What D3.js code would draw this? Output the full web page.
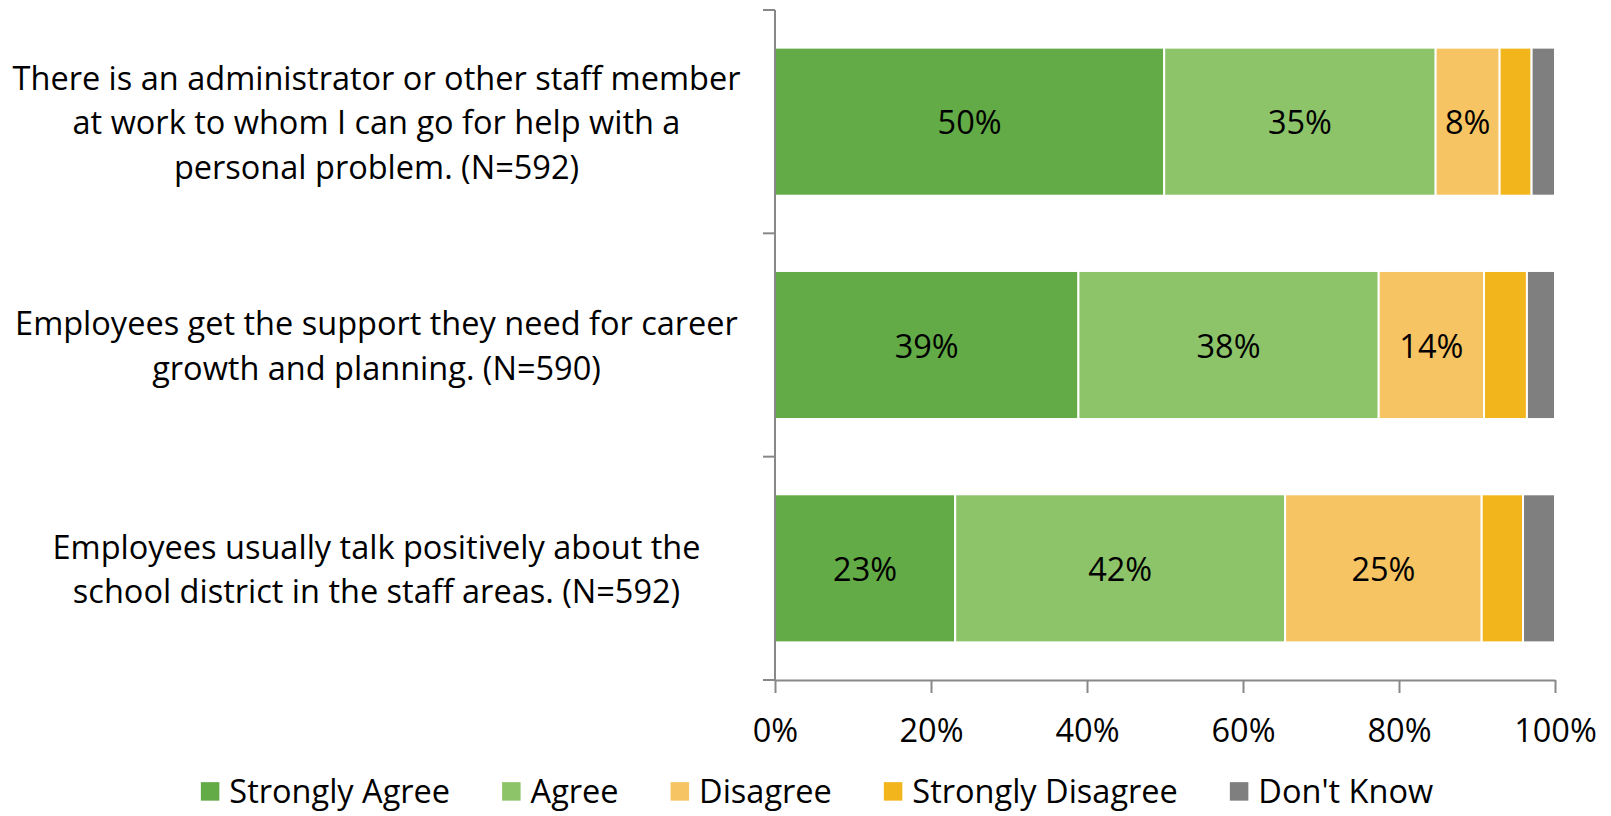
<!DOCTYPE html>
<html>
<head>
<meta charset="utf-8">
<script src="https://cdn.jsdelivr.net/npm/d3@7/dist/d3.min.js"></script>
<style>
  html, body { margin: 0; padding: 0; background: #fff; }
  svg { display: block; }
  text { font-family: "Open Sans", "Noto Sans", sans-serif; fill: #000; }
</style>
</head>
<body>
<svg id="chart" width="1611" height="816"></svg>
<script>
// ---- Data ----
const categories = [
  ["There is an administrator or other staff member", "at work to whom I can go for help with a", "personal problem. (N=592)"],
  ["Employees get the support they need for career", "growth and planning. (N=590)"],
  ["Employees usually talk positively about the", "school district in the staff areas. (N=592)"]
];
const seriesNames = ["Strongly Agree", "Agree", "Disagree", "Strongly Disagree", "Don't Know"];
const stronglyAgree    = [49.9, 38.9, 23.1];
const agree            = [34.8, 38.5, 42.3];
const disagree         = [8.2, 13.5, 25.2];
const stronglyDisagree = [4.1, 5.5, 5.3];
const dontKnow         = [3.0, 3.6, 4.1];
const labelsShown      = [["50%", "35%", "8%", "", ""], ["39%", "38%", "14%", "", ""], ["23%", "42%", "25%", "", ""]];
const xTicks = [0, 20, 40, 60, 80, 100];
const colors = ["#62ab46", "#8dc46a", "#f6c462", "#f2b51b", "#7f7f7f"];

// ---- Layout ----
const svg = d3.select("#chart");
const plotLeft = 775, plotRight = 1555, plotTop = 10, plotBottom = 680;
const fontSize = 32.5;

const x = d3.scaleLinear().domain([0, 100]).range([plotLeft, plotRight]);
const y = d3.scaleBand().domain(d3.range(categories.length)).range([plotTop, plotBottom])
  .paddingInner(0.337).paddingOuter(0.337 / 2);

const seriesVals = [stronglyAgree, agree, disagree, stronglyDisagree, dontKnow];
const rows = categories.map((c, i) => {
  const o = { idx: i };
  seriesNames.forEach((s, j) => o[s] = seriesVals[j][i]);
  return o;
});
const stack = d3.stack().keys(seriesNames)(rows);

// bars
const g = svg.append("g");
stack.forEach((layer, j) => {
  g.selectAll(null).data(layer).enter().append("rect")
    .attr("x", d => x(d[0]))
    .attr("y", d => y(d.data.idx))
    .attr("width", d => x(d[1]) - x(d[0]))
    .attr("height", y.bandwidth())
    .attr("fill", colors[j])
    .attr("stroke", "#fff")
    .attr("stroke-width", 2);
  g.selectAll(null).data(layer).enter().append("text")
    .attr("x", d => (x(d[0]) + x(d[1])) / 2)
    .attr("y", d => y(d.data.idx) + y.bandwidth() / 2)
    .attr("text-anchor", "middle")
    .attr("dominant-baseline", "central")
    .style("font-size", fontSize + "px")
    .text(d => labelsShown[d.data.idx][j]);
});

// y axis (category) line and ticks
const axisColor = "#888";
const yAxis = svg.append("g");
yAxis.append("line").attr("x1", plotLeft).attr("x2", plotLeft)
  .attr("y1", plotTop).attr("y2", plotBottom).attr("stroke", axisColor).attr("stroke-width", 2);
const step = y.step();
d3.range(categories.length + 1).forEach(k => {
  const yy = plotTop + k * step;
  yAxis.append("line").attr("x1", plotLeft - 12).attr("x2", plotLeft)
    .attr("y1", yy).attr("y2", yy).attr("stroke", axisColor).attr("stroke-width", 2);
});

// x axis
const xAxis = d3.axisBottom(x).tickValues(xTicks).tickFormat(d => d + "%").tickSize(13).tickPadding(26).tickSizeOuter(0);
const xg = svg.append("g").attr("transform", `translate(0,${plotBottom})`).call(xAxis);
xg.select(".domain").attr("stroke", axisColor).attr("stroke-width", 2);
xg.selectAll(".tick line").attr("stroke", axisColor).attr("stroke-width", 2);
xg.selectAll(".tick text").style("font-size", fontSize + "px").style("font-family", '"Open Sans", sans-serif').attr("fill", "#000");

// category labels
const labelX = 376.5, lineH = 44.5;
categories.forEach((lines, i) => {
  const cy = y(i) + y.bandwidth() / 2;
  const t = svg.append("text").attr("text-anchor", "middle").style("font-size", fontSize + "px");
  lines.forEach((ln, k) => {
    t.append("tspan").attr("x", labelX)
      .attr("y", cy + (k - (lines.length - 1) / 2) * lineH)
      .attr("dominant-baseline", "central")
      .text(ln);
  });
});

// legend
const legendBase = 803, capH = fontSize * 0.714, sq = 18.5, gapText = 10, gapItem = 52;
const legendMid = legendBase - capH / 2;
const lg = svg.append("g");
const items = seriesNames.map((name, j) => {
  const t = lg.append("text").style("font-size", fontSize + "px").attr("y", legendBase).text(name);
  return { t, w: t.node().getComputedTextLength(), j };
});
const total = d3.sum(items, d => sq + gapText + d.w) + gapItem * (items.length - 1);
let cx = 817 - total / 2;
items.forEach(d => {
  lg.append("rect").attr("x", cx).attr("y", legendMid - sq / 2).attr("width", sq).attr("height", sq).attr("fill", colors[d.j]);
  d.t.attr("x", cx + sq + gapText);
  cx += sq + gapText + d.w + gapItem;
});
</script>
</body>
</html>
